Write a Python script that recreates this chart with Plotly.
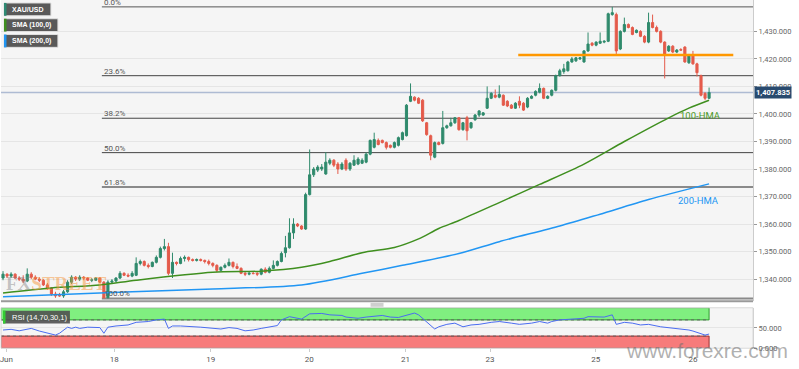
import plotly.graph_objects as go

W, H = 799, 369

# ---------------- data ----------------
opens = [
    1340.4, 1341.8, 1341.1, 1341.8, 1340.4, 1340.0, 1339.3, 1341.8, 1340.7, 1340.0,
    1339.6, 1337.9, 1336.8, 1334.6, 1334.3, 1333.9, 1335.4, 1338.9, 1340.7, 1340.0,
    1340.7, 1340.4, 1339.6, 1339.6, 1340.4, 1338.9, 1333.2, 1338.9, 1339.3, 1340.4,
    1342.1, 1341.4, 1341.1, 1341.4, 1345.7, 1346.4, 1345.0, 1344.6, 1346.1, 1347.9,
    1351.1, 1351.8, 1342.1, 1346.1, 1345.7, 1347.5, 1347.9, 1347.1, 1346.8, 1347.1,
    1346.8, 1346.4, 1345.7, 1345.0, 1343.2, 1344.3, 1345.0, 1346.1, 1344.6, 1343.9,
    1342.1, 1341.8, 1342.1, 1342.1, 1341.8, 1343.6, 1342.5, 1343.9, 1345.0, 1346.4,
    1349.6, 1351.4, 1356.8, 1360.0, 1359.3, 1358.2, 1370.7, 1377.9, 1379.6, 1380.0,
    1378.2, 1382.1, 1383.2, 1381.8, 1380.0, 1383.2, 1380.0, 1381.4, 1381.8, 1382.1,
    1382.5, 1385.4, 1387.9, 1390.4, 1390.4, 1389.6, 1388.6, 1387.9, 1388.6, 1390.7,
    1392.1, 1404.6, 1406.1, 1405.7, 1405.0, 1396.8, 1392.1, 1384.3, 1389.6, 1389.3,
    1395.0, 1395.7, 1396.8, 1398.6, 1394.3, 1398.6, 1395.0, 1397.9, 1399.6, 1399.6,
    1402.1, 1405.7, 1406.8, 1406.1, 1406.8, 1404.6, 1403.2, 1402.1, 1404.6, 1403.9,
    1402.5, 1405.7, 1406.8, 1407.9, 1409.3, 1405.7, 1406.8, 1408.6, 1413.9, 1415.4,
    1415.7, 1418.9, 1419.3, 1420.0, 1418.9, 1422.9, 1425.7, 1425.0, 1425.7, 1426.1,
    1426.4, 1436.1, 1436.1, 1423.6, 1430.0, 1432.5, 1431.4, 1429.6, 1430.0, 1428.2,
    1426.1, 1433.2, 1431.4, 1430.0, 1426.1, 1422.9, 1424.6, 1422.5, 1423.4, 1424.3,
    1418.6, 1421.1, 1418.2, 1413.9, 1407.5, 1405.7,
]
highs = [
    1342.9, 1342.1, 1342.5, 1342.1, 1341.1, 1341.4, 1343.9, 1342.5, 1341.4, 1340.7,
    1340.0, 1338.6, 1337.1, 1335.4, 1335.0, 1336.1, 1339.6, 1341.4, 1341.1, 1341.4,
    1341.1, 1340.7, 1340.4, 1340.7, 1340.7, 1339.3, 1339.6, 1340.0, 1340.7, 1342.9,
    1342.5, 1342.1, 1342.9, 1347.9, 1347.1, 1346.8, 1345.7, 1346.4, 1348.6, 1351.8,
    1354.6, 1353.2, 1349.6, 1346.4, 1348.2, 1348.6, 1348.2, 1347.5, 1347.5, 1347.5,
    1347.1, 1347.1, 1346.1, 1345.4, 1344.6, 1345.7, 1347.5, 1346.4, 1345.7, 1344.3,
    1342.9, 1342.9, 1342.9, 1342.5, 1343.9, 1344.3, 1344.6, 1346.8, 1346.8, 1350.0,
    1355.7, 1362.1, 1362.1, 1360.4, 1359.6, 1371.4, 1387.1, 1380.7, 1381.4, 1381.8,
    1386.1, 1383.9, 1383.6, 1382.5, 1382.5, 1383.9, 1382.5, 1385.0, 1384.3, 1383.9,
    1386.1, 1390.7, 1393.2, 1391.1, 1390.7, 1390.0, 1388.9, 1390.0, 1391.8, 1393.6,
    1403.6, 1411.1, 1406.4, 1406.1, 1405.4, 1397.1, 1392.5, 1390.0, 1390.0, 1401.1,
    1396.1, 1398.6, 1398.9, 1398.9, 1397.1, 1399.3, 1397.1, 1400.0, 1401.4, 1400.7,
    1410.0, 1407.9, 1408.9, 1410.4, 1407.1, 1405.0, 1403.6, 1404.3, 1406.4, 1404.3,
    1406.1, 1406.8, 1408.6, 1411.1, 1409.6, 1406.8, 1408.9, 1414.3, 1416.4, 1418.2,
    1419.3, 1420.7, 1420.7, 1420.7, 1423.2, 1429.6, 1426.1, 1426.4, 1429.6, 1426.8,
    1436.8, 1438.9, 1436.8, 1430.4, 1435.0, 1432.9, 1431.8, 1430.7, 1430.4, 1428.6,
    1436.8, 1436.1, 1432.1, 1430.4, 1426.4, 1425.0, 1425.0, 1423.6, 1423.9, 1424.6,
    1421.8, 1422.9, 1418.6, 1414.3, 1407.9, 1409.6,
]
lows = [
    1339.6, 1340.4, 1340.4, 1340.0, 1339.3, 1338.6, 1338.9, 1340.0, 1339.6, 1338.9,
    1337.5, 1336.1, 1333.9, 1333.2, 1333.6, 1333.2, 1335.0, 1338.2, 1339.3, 1339.3,
    1339.6, 1339.3, 1338.9, 1339.3, 1338.6, 1333.0, 1333.1, 1338.6, 1338.9, 1340.0,
    1341.1, 1340.7, 1340.7, 1341.1, 1345.0, 1344.6, 1343.9, 1344.3, 1345.7, 1347.5,
    1350.4, 1341.4, 1340.4, 1345.0, 1345.4, 1346.4, 1346.4, 1346.4, 1346.4, 1346.4,
    1345.7, 1345.0, 1344.3, 1342.5, 1342.9, 1343.9, 1344.6, 1343.9, 1343.6, 1341.8,
    1341.1, 1341.4, 1341.8, 1341.1, 1341.4, 1342.1, 1342.1, 1343.6, 1344.6, 1346.1,
    1347.9, 1351.1, 1354.6, 1358.9, 1357.9, 1357.9, 1370.4, 1377.1, 1378.9, 1379.3,
    1377.9, 1381.4, 1380.7, 1378.2, 1379.6, 1379.3, 1379.3, 1381.1, 1381.4, 1381.8,
    1382.1, 1385.0, 1387.5, 1388.6, 1389.3, 1387.1, 1387.5, 1387.5, 1388.2, 1390.4,
    1391.8, 1404.3, 1404.6, 1403.6, 1397.1, 1392.1, 1383.2, 1383.9, 1388.6, 1388.9,
    1394.6, 1395.4, 1396.4, 1393.9, 1393.9, 1390.4, 1394.6, 1397.5, 1398.9, 1399.3,
    1401.8, 1405.4, 1405.7, 1405.7, 1402.9, 1402.5, 1401.8, 1401.8, 1402.1, 1401.1,
    1402.1, 1405.4, 1406.4, 1407.5, 1405.4, 1405.4, 1406.4, 1408.2, 1413.6, 1414.6,
    1415.4, 1418.6, 1418.9, 1419.6, 1418.6, 1422.5, 1424.6, 1424.6, 1425.4, 1425.7,
    1426.1, 1435.7, 1421.8, 1423.2, 1429.6, 1431.1, 1428.6, 1429.3, 1427.9, 1425.7,
    1425.7, 1431.1, 1429.6, 1425.7, 1412.9, 1422.5, 1422.1, 1422.1, 1422.9, 1418.6,
    1418.2, 1417.9, 1413.6, 1406.4, 1405.0, 1405.4,
]
closes = [
    1341.8, 1341.1, 1341.8, 1340.4, 1340.0, 1339.3, 1341.8, 1340.7, 1340.0, 1339.6,
    1337.9, 1336.8, 1334.6, 1333.9, 1333.9, 1335.4, 1338.9, 1340.7, 1340.0, 1340.7,
    1340.4, 1339.6, 1339.7, 1340.4, 1338.9, 1333.2, 1338.9, 1339.3, 1340.4, 1342.1,
    1341.4, 1341.1, 1342.1, 1345.7, 1346.4, 1345.0, 1344.6, 1346.1, 1347.9, 1351.1,
    1351.8, 1342.1, 1346.1, 1345.7, 1347.5, 1347.9, 1347.1, 1346.8, 1347.1, 1346.8,
    1346.4, 1345.7, 1345.0, 1343.2, 1344.3, 1345.0, 1346.1, 1344.6, 1343.9, 1342.1,
    1341.8, 1342.1, 1342.0, 1341.8, 1343.6, 1342.5, 1343.9, 1345.0, 1346.4, 1349.3,
    1351.4, 1356.8, 1360.0, 1359.3, 1358.2, 1370.7, 1377.9, 1380.0, 1380.7, 1380.7,
    1382.5, 1383.2, 1381.4, 1380.0, 1381.8, 1380.0, 1382.1, 1383.2, 1383.6, 1383.2,
    1385.4, 1390.4, 1390.7, 1388.9, 1389.6, 1387.9, 1387.9, 1389.6, 1391.4, 1393.2,
    1403.2, 1406.4, 1405.0, 1403.9, 1397.5, 1392.5, 1385.0, 1389.6, 1388.9, 1395.0,
    1395.7, 1396.8, 1398.6, 1394.3, 1396.8, 1393.9, 1396.8, 1399.6, 1401.1, 1400.4,
    1405.7, 1407.5, 1406.1, 1407.1, 1403.2, 1402.9, 1402.1, 1403.9, 1403.2, 1401.4,
    1405.7, 1406.4, 1408.2, 1409.3, 1405.7, 1406.4, 1408.6, 1413.9, 1415.7, 1416.4,
    1418.9, 1420.0, 1420.4, 1420.4, 1422.9, 1425.4, 1425.0, 1426.1, 1426.4, 1426.4,
    1436.4, 1436.8, 1422.9, 1430.0, 1432.5, 1431.4, 1428.9, 1430.4, 1428.2, 1426.1,
    1433.2, 1431.4, 1430.0, 1426.1, 1421.8, 1424.6, 1422.5, 1423.2, 1423.2, 1418.9,
    1421.1, 1418.2, 1415.0, 1406.8, 1405.7, 1407.8,
]
bar_index = list(range(len(closes)))

# moving averages (bar index, value)
sma100_idx = [0, 12, 24, 33, 52, 64, 74, 81, 89, 97, 103, 108, 113, 123, 133, 144, 154, 165, 170, 175]
sma100_val = [1335.0, 1336.8, 1337.9, 1339.6, 1342.5, 1342.9, 1344.3, 1346.4, 1349.6, 1351.5,
              1354.6, 1358.4, 1361.3, 1367.8, 1374.4, 1381.8, 1390.0, 1398.6, 1402.1, 1405.0]
sma200_idx = [0, 32, 52, 74, 89, 99, 113, 123, 138, 148, 160, 175]
sma200_val = [1333.6, 1335.4, 1336.4, 1337.9, 1342.1, 1345.0, 1349.3, 1353.6, 1359.3, 1363.6,
              1368.9, 1374.6]

# RSI (bar index, value)
rsi_idx = [0, 2, 4, 7, 9, 12, 13, 14, 16, 17, 18, 19, 21, 24, 25, 26, 28, 31, 33, 36, 38, 40,
           41, 42, 44, 49, 52, 54, 56, 58, 60, 62, 64, 66, 68, 69, 71, 74, 76, 79, 81, 84, 85,
           88, 90, 94, 96, 98, 100, 102, 103, 105, 107, 108, 110, 112, 113, 114, 116, 118, 121,
           123, 126, 128, 131, 133, 135, 136, 138, 141, 144, 145, 148, 149, 151, 152, 154, 156,
           158, 160, 163, 165, 167, 170, 171, 173, 174, 175]
rsi_val = [45, 46.7, 43, 49, 42.5, 34, 32.5, 37, 52, 49, 52, 49, 52, 51, 37, 52, 55, 57.5, 64,
           66, 70, 72, 49, 55, 55, 52, 49, 47.5, 51, 49, 43, 45, 49, 52, 56, 70, 78, 72, 85, 86,
           82.5, 81, 77, 74, 77, 81, 77, 76, 81, 87, 82.5, 66, 47.5, 53, 59, 62, 57.5, 53, 57.5,
           59, 64, 66, 62, 59, 62, 66, 62, 66, 70, 72.5, 74, 78, 76, 77, 82.5, 59, 64, 62, 57.5,
           59, 53, 51, 49, 45, 42.5, 37, 32.5, 35]

fib_low, fib_high = 1333.0, 1438.9
fib_start_bar = 24.5
fib_ratios = [0.0, 0.236, 0.382, 0.5, 0.618, 1.0]
fib_labels = ["0.0%", "23.6%", "38.2%", "50.0%", "61.8%", "100.0%"]

resistance_level = 1421.4
resistance_bars = [127.7, 181.0]
last_price = 1407.835

tick_bars = [0.8, 27.6, 51.5, 75.9, 99.75, 120.7, 146.9, 171.0]
tick_labels = ["Jun", "18", "19", "20", "21", "23", "25", "26"]
price_ticks = [1340, 1350, 1360, 1370, 1380, 1390, 1400, 1410, 1420, 1430]

# ---------------- geometry helpers ----------------
def px(x):
    return x / W

def py(y):
    return 1 - y / H

X_MAX = 185.9
FONT = "Roboto"

fig = go.Figure()

fig.add_trace(go.Candlestick(
    x=bar_index, open=opens, high=highs, low=lows, close=closes,
    increasing=dict(line=dict(color="#2f8a6c", width=1), fillcolor="#2f8a6c"),
    decreasing=dict(line=dict(color="#e45b4b", width=1), fillcolor="#e45b4b"),
    whiskerwidth=0, showlegend=False, hoverinfo="skip", xaxis="x", yaxis="y",
))
fig.add_trace(go.Scatter(
    x=sma100_idx, y=sma100_val, mode="lines", line=dict(color="#3f8f1f", width=1.5, shape="spline", smoothing=0.8),
    showlegend=False, hoverinfo="skip", xaxis="x", yaxis="y",
))
fig.add_trace(go.Scatter(
    x=sma200_idx, y=sma200_val, mode="lines", line=dict(color="#2196f3", width=1.5, shape="spline", smoothing=0.8),
    showlegend=False, hoverinfo="skip", xaxis="x", yaxis="y",
))
fig.add_trace(go.Scatter(
    x=rsi_idx, y=rsi_val, mode="lines", line=dict(color="#4a6cf0", width=1),
    showlegend=False, hoverinfo="skip", xaxis="x", yaxis="y2",
))

shapes = []
annotations = []

# RSI bands
shapes.append(dict(type="rect", xref="x", yref="y2", x0=-0.5, x1=175, y0=70, y1=100,
                   fillcolor="#80ef80", line=dict(color="#2e9a2e", width=1), layer="below"))
shapes.append(dict(type="rect", xref="x", yref="y2", x0=-0.5, x1=175, y0=0, y1=30,
                   fillcolor="#f77b7b", line=dict(color="#9b3030", width=1), layer="below"))
for lvl in (70, 30):
    shapes.append(dict(type="line", xref="x", yref="y2", x0=-0.5, x1=175, y0=lvl, y1=lvl,
                       line=dict(color="#666", width=1, dash="dot"), layer="below"))

# fib lines
fib_colors = ["#555", "#444", "#444", "#444", "#8a8a8a", "#8a8a8a"]
fib_widths = [1, 1, 1, 1, 2, 2]
for r, lab, c, w in zip(fib_ratios, fib_labels, fib_colors, fib_widths):
    lvl = fib_high - r * (fib_high - fib_low)
    shapes.append(dict(type="line", xref="x", yref="y", x0=fib_start_bar, x1=X_MAX, y0=lvl, y1=lvl,
                       line=dict(color=c, width=w), layer="below"))
    annotations.append(dict(xref="x", yref="y", x=fib_start_bar, y=lvl, text=lab, showarrow=False,
                            xanchor="left", yanchor="bottom", yshift=-2,
                            font=dict(family=FONT, size=8, color="#555")))

# last price line
shapes.append(dict(type="line", xref="x", yref="y", x0=-0.5, x1=X_MAX, y0=last_price, y1=last_price,
                   line=dict(color="#aebbd3", width=1.5), layer="below"))
# resistance line
shapes.append(dict(type="line", xref="x", yref="y", x0=resistance_bars[0], x1=resistance_bars[1],
                   y0=resistance_level, y1=resistance_level, line=dict(color="#ff9800", width=2.5)))

# main pane bottom border
shapes.append(dict(type="line", xref="paper", yref="paper", x0=0, x1=px(753), y0=py(305.5), y1=py(305.5),
                   line=dict(color="#9a9a9a", width=2)))
# rsi pane border
shapes.append(dict(type="rect", xref="paper", yref="paper", x0=0, x1=px(753), y0=py(353), y1=py(312),
                   line=dict(color="#d8d8d8", width=1)))
# drag handle
shapes.append(dict(type="rect", xref="paper", yref="paper", x0=px(370), x1=px(383), y0=py(311), y1=py(307),
                   fillcolor="#cfcfcf", line=dict(width=0)))

# legend boxes
legend_items = [("XAU/USD", "#2e8b74", 3, 50, 3, 16),
                ("SMA (100,0)", "#3f8f1f", 3, 57, 19, 32),
                ("SMA (200,0)", "#2196f3", 3, 57, 35, 48)]
for text, col, x0, x1, y0, y1 in legend_items:
    shapes.append(dict(type="rect", xref="paper", yref="paper", x0=px(x0), x1=px(x1), y0=py(y1), y1=py(y0),
                       fillcolor="#595959", line=dict(color="#e0e0e0", width=1)))
    shapes.append(dict(type="rect", xref="paper", yref="paper", x0=px(x0), x1=px(x0 + 2.5), y0=py(y1), y1=py(y0),
                       fillcolor=col, line=dict(width=0)))
    annotations.append(dict(xref="paper", yref="paper", x=px(x0 + 6), y=py((y0 + y1) / 2), text="<b>%s</b>" % text,
                            showarrow=False, xanchor="left", yanchor="middle",
                            font=dict(family="Liberation Sans", size=7, color="white")))

# RSI label
shapes.append(dict(type="rect", xref="paper", yref="paper", x0=px(2), x1=px(69), y0=py(328), y1=py(315),
                   fillcolor="rgba(80,80,80,0.9)", line=dict(width=0)))
shapes.append(dict(type="rect", xref="paper", yref="paper", x0=px(2), x1=px(4.5), y0=py(328), y1=py(315),
                   fillcolor="#33cc33", line=dict(width=0)))
annotations.append(dict(xref="paper", yref="paper", x=px(9), y=py(321.5), text="RSI (14,70,30,1)",
                        showarrow=False, xanchor="left", yanchor="middle",
                        font=dict(family="Liberation Sans", size=7.5, color="white")))

# MA labels
annotations.append(dict(xref="paper", yref="paper", x=px(700), y=py(117), text="100-HMA", showarrow=False,
                        xanchor="center", yanchor="middle", font=dict(family=FONT, size=9.5, color="#4c9a2a")))
annotations.append(dict(xref="paper", yref="paper", x=px(698), y=py(203), text="200-HMA", showarrow=False,
                        xanchor="center", yanchor="middle", font=dict(family=FONT, size=9.5, color="#2196f3")))

# last price label
annotations.append(dict(xref="paper", yref="y", x=px(754), y=last_price, text="<b>1,407.835</b>", showarrow=False,
                        xanchor="left", yanchor="middle", bgcolor="#284a6e", borderpad=1,
                        font=dict(family=FONT, size=7.5, color="white")))

# watermarks
annotations.append(dict(xref="paper", yref="paper", x=px(707), y=py(355), text="www.forexre.com", showarrow=False,
                        xanchor="center", yanchor="middle",
                        font=dict(family="Liberation Sans", size=21, color="rgba(110,110,110,0.55)")))
annotations.append(dict(xref="paper", yref="paper", x=px(3), y=py(287), showarrow=False,
                        text="<b><span style='color:rgba(130,130,130,0.45)'>FX</span>"
                             "<span style='color:rgba(245,150,60,0.5)'>STREET</span></b>",
                        xanchor="left", yanchor="middle", font=dict(family="Liberation Sans Narrow", size=19)))

axis_font = dict(family=FONT, size=7.5, color="#666")
fig.update_layout(
    width=W, height=H, margin=dict(l=0, r=0, t=0, b=0),
    paper_bgcolor="white", plot_bgcolor="#f5f5f5",
    boxgap=0.25,
    xaxis=dict(domain=[0, px(753)], range=[-0.5, X_MAX], anchor="y2", tickvals=tick_bars, ticktext=tick_labels,
               tickfont=dict(family=FONT, size=8, color="#555"), showgrid=False, zeroline=False,
               ticks="outside", ticklen=3, tickcolor="#cccccc", rangeslider=dict(visible=False), showline=False,
               ticklabeloverflow="allow"),
    yaxis=dict(domain=[py(305), 1], range=[1332.1, 1441.4], side="right", anchor="x", tickvals=price_ticks,
               tickformat=",.3f", tickfont=axis_font, gridcolor="#e5e5e5", zeroline=False, ticks="outside",
               ticklen=3, tickcolor="#999", showline=True, linecolor="#cccccc"),
    yaxis2=dict(domain=[py(353), py(312)], range=[0, 100], side="right", anchor="x", tickvals=[0, 50],
                ticktext=["0.000", "50.000"], tickfont=axis_font, gridcolor="#e5e5e5", zeroline=False,
                ticks="outside", ticklen=3, tickcolor="#999", showline=True, linecolor="#cccccc"),
    shapes=shapes, annotations=annotations, showlegend=False,
)

fig.write_html("out.html", config={"displayModeBar": False},
               post_script="document.body.style.margin='0';document.body.style.padding='0';"
                           "document.body.style.overflow='hidden';")
